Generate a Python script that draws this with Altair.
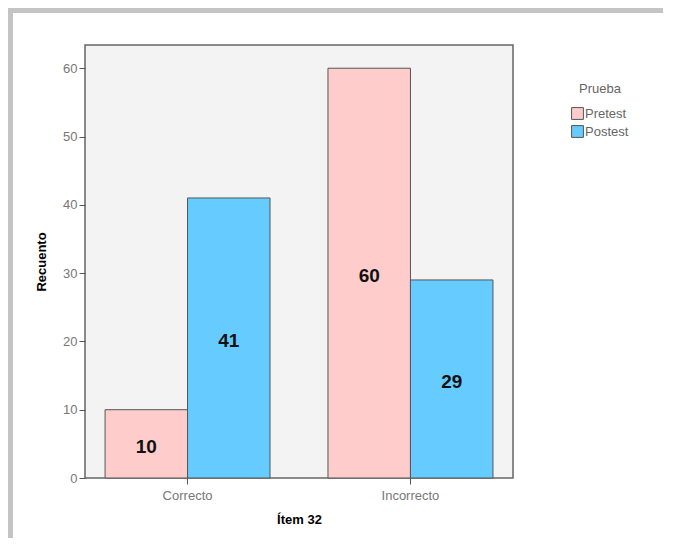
import altair as alt
import pandas as pd

items = ["Correcto", "Correcto", "Incorrecto", "Incorrecto"]
pruebas = ["Pretest", "Postest", "Pretest", "Postest"]
counts = [10, 41, 60, 29]
y_ticks = [0, 10, 20, 30, 40, 50, 60]
series_order = ["Pretest", "Postest"]
series_colors = ["#FFCCCC", "#66CCFF"]

df = pd.DataFrame({"item": items, "prueba": pruebas, "n": counts})
df["half"] = df["n"] / 2

FONT = "Liberation Sans"

x_enc = alt.X("item:N", title="Ítem 32", sort=["Correcto", "Incorrecto"],
              scale=alt.Scale(paddingInner=0.26, paddingOuter=0.09),
              axis=alt.Axis(labelAngle=0, labelColor="#777777", labelFontSize=13,
                            labelFont=FONT, titleFont=FONT, titleFontSize=13,
                            titleFontWeight="bold", titleColor="#000000",
                            domain=False, tickColor="#555555", tickSize=6,
                            labelPadding=5, titlePadding=11))
xoff = alt.XOffset("prueba:N", sort=series_order, scale=alt.Scale(paddingInner=0, paddingOuter=0))

bars = alt.Chart(df).mark_bar(stroke="#555555", strokeWidth=1).encode(
    x=x_enc,
    xOffset=xoff,
    y=alt.Y("n:Q", title="Recuento",
            scale=alt.Scale(domain=[0, 63.4], nice=False, zero=True),
            axis=alt.Axis(values=y_ticks, grid=False, labelColor="#777777",
                          labelFontSize=13, labelFont=FONT, titleFont=FONT,
                          titleFontSize=13, titleFontWeight="bold",
                          titleColor="#000000", domain=False,
                          tickColor="#555555", tickSize=6, labelPadding=2,
                          titlePadding=14)),
    color=alt.Color("prueba:N", sort=series_order,
                    scale=alt.Scale(domain=series_order, range=series_colors),
                    legend=alt.Legend(title="Prueba", orient="none",
                                      legendX=486, legendY=38,
                                      titleFont=FONT, titleFontSize=13,
                                      titleFontWeight="normal",
                                      titleColor="#666666", titleAnchor="middle",
                                      labelFont=FONT, labelFontSize=13,
                                      labelColor="#666666", symbolType="square",
                                      symbolSize=140, symbolStrokeColor="#555555",
                                      symbolStrokeWidth=1, labelOffset=1,
                                      rowPadding=1, titlePadding=11)),
)

labels = alt.Chart(df).mark_text(fontSize=19, fontWeight="bold", font=FONT,
                                 color="#111111", baseline="middle", dy=3).encode(
    x=alt.X("item:N", sort=["Correcto", "Incorrecto"]),
    xOffset=xoff,
    y=alt.Y("half:Q"),
    text=alt.Text("n:Q"),
)

# decorative outer frame (top and left gray borders, as in the reference image)
frame_top = alt.Chart(df).mark_rule(color="#C4C4C4", strokeWidth=5).encode(
    x=alt.value(-77), x2=alt.value(600), y=alt.value(-34.5))
frame_left = alt.Chart(df).mark_rule(color="#C4C4C4", strokeWidth=5).encode(
    x=alt.value(-74.5), y=alt.value(-37), y2=alt.value(506))

chart = alt.layer(frame_top, frame_left, bars, labels).properties(
    width=428, height=433,
    autosize=alt.AutoSizeParams(type="none"),
    padding={"left": 77, "top": 37, "right": 150, "bottom": 60},
    background="#FFFFFF",
).configure_view(
    fill="#F3F3F3", stroke="#666666", strokeWidth=1.5
)

chart.save("out.html", embed_options={"renderer": "svg", "actions": False})
